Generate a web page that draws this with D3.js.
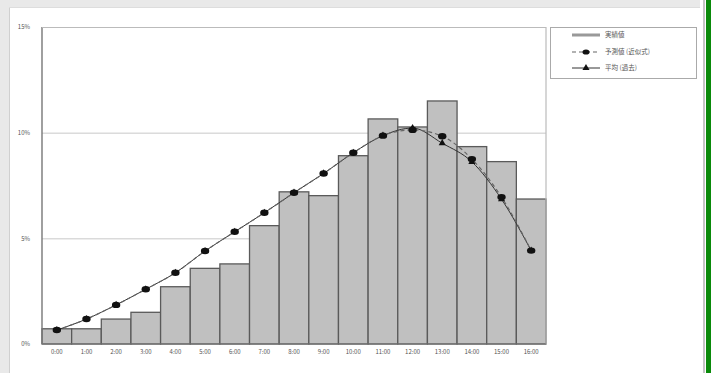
<!DOCTYPE html>
<html>
<head>
<meta charset="utf-8">
<script src="https://cdn.jsdelivr.net/npm/d3@7"></script>
<style>
  html, body { margin: 0; padding: 0; background: #ffffff; }
  svg { display: block; }
  text { font-family: "Noto Sans CJK JP", "DejaVu Sans", sans-serif; fill: #555; }
</style>
</head>
<body>
<svg id="chart" width="711" height="373"></svg>
<script>
// Hourly share (%) — bars and two fitted curves
const categories = ["0:00","1:00","2:00","3:00","4:00","5:00","6:00","7:00","8:00",
  "9:00","10:00","11:00","12:00","13:00","14:00","15:00","16:00"];
const actual = [0.72, 0.72, 1.18, 1.50, 2.71, 3.58, 3.79, 5.60, 7.20, 7.02, 8.91,
  10.65, 10.27, 11.50, 9.34, 8.63, 6.86];
const forecast = [0.66, 1.18, 1.85, 2.59, 3.37, 4.40, 5.31, 6.21, 7.16, 8.07, 9.05,
  9.86, 10.13, 9.83, 8.75, 6.95, 4.42];
const fitted = [0.66, 1.18, 1.85, 2.59, 3.37, 4.40, 5.31, 6.21, 7.16, 8.07, 9.05,
  9.86, 10.22, 9.50, 8.62, 6.85, 4.42];
const yTicks = [0, 5, 10, 15];
const legendLabels = ["実績値", "予測値 (近似式)", "平均 (過去)"];

const svg = d3.select("#chart");

// page frame
svg.append("rect").attr("x", 0).attr("y", 0).attr("width", 711).attr("height", 373).attr("fill", "#ffffff");
svg.append("rect").attr("x", 0).attr("y", 0).attr("width", 700).attr("height", 7).attr("fill", "#e9e9e9");
svg.append("rect").attr("x", 0).attr("y", 0).attr("width", 9).attr("height", 373).attr("fill", "#e9e9e9");
svg.append("line").attr("x1", 9.5).attr("x2", 9.5).attr("y1", 7).attr("y2", 373).attr("stroke", "#d0d0d0");
svg.append("line").attr("x1", 9).attr("x2", 700).attr("y1", 7.5).attr("y2", 7.5).attr("stroke", "#dddddd");
svg.append("rect").attr("x", 703).attr("y", 0).attr("width", 2).attr("height", 373).attr("fill", "#c4c4c4");
svg.append("rect").attr("x", 706).attr("y", 0).attr("width", 5).attr("height", 373).attr("fill", "#0a8a0a");

const plot = { left: 42, top: 27, right: 546, bottom: 344 };

const x = d3.scaleBand().domain(categories).range([plot.left, plot.right]).padding(0);
const y = d3.scaleLinear().domain([0, 15]).range([plot.bottom, plot.top]);

// gridlines
svg.append("g").selectAll("line").data(yTicks.filter(d => d > 0)).join("line")
  .attr("x1", plot.left).attr("x2", plot.right)
  .attr("y1", d => y(d) + 0.5).attr("y2", d => y(d) + 0.5)
  .attr("stroke", "#c8c8c8").attr("stroke-width", 1);

// bars
svg.append("g").selectAll("rect").data(actual).join("rect")
  .attr("x", (d, i) => x(categories[i]))
  .attr("y", d => y(d))
  .attr("width", x.bandwidth())
  .attr("height", d => y(0) - y(d))
  .attr("fill", "#c0c0c0")
  .attr("stroke", "#5a5a5a")
  .attr("stroke-width", 1.3);

// plot frame: left axis, right border
svg.append("line").attr("x1", plot.left).attr("x2", plot.left).attr("y1", plot.top).attr("y2", plot.bottom)
  .attr("stroke", "#777").attr("stroke-width", 1.4);
svg.append("line").attr("x1", plot.right).attr("x2", plot.right).attr("y1", plot.top).attr("y2", plot.bottom)
  .attr("stroke", "#bbb").attr("stroke-width", 1.2);
svg.append("line").attr("x1", plot.left).attr("x2", plot.right).attr("y1", plot.top + 0.5).attr("y2", plot.top + 0.5)
  .attr("stroke", "#bbb").attr("stroke-width", 1.2);
svg.append("line").attr("x1", plot.left).attr("x2", plot.right).attr("y1", plot.bottom).attr("y2", plot.bottom)
  .attr("stroke", "#777").attr("stroke-width", 1.2);

// axes
const yAxis = d3.axisLeft(y).tickValues(yTicks).tickFormat(d => d + "%").tickSize(0).tickPadding(12);
const gy = svg.append("g").attr("transform", `translate(${plot.left},0)`).call(yAxis);
gy.select(".domain").remove();
gy.selectAll("text").style("font-size", "6px").attr("fill", "#555");

const xAxis = d3.axisBottom(x).tickSize(0).tickPadding(6);
const gx = svg.append("g").attr("transform", `translate(0,${plot.bottom})`).call(xAxis);
gx.select(".domain").remove();
gx.selectAll("text").style("font-size", "6px").attr("fill", "#555");

// curves
const cx = (d, i) => x(categories[i]) + x.bandwidth() / 2;
const line = d3.line().x(cx).y(d => y(d)).curve(d3.curveMonotoneX);

svg.append("path").datum(fitted).attr("d", line)
  .attr("fill", "none").attr("stroke", "#333").attr("stroke-width", 1);
svg.append("path").datum(forecast).attr("d", line)
  .attr("fill", "none").attr("stroke", "#666").attr("stroke-width", 1.2).attr("stroke-dasharray", "4,3");

const tri = d3.symbol().type(d3.symbolTriangle).size(22);
svg.append("g").selectAll("path").data(fitted).join("path")
  .attr("transform", (d, i) => `translate(${cx(d, i)},${y(d)})`)
  .attr("d", tri).attr("fill", "#111");
svg.append("g").selectAll("ellipse").data(forecast).join("ellipse")
  .attr("cx", cx).attr("cy", d => y(d)).attr("rx", 4.2).attr("ry", 3.2).attr("fill", "#111");

// legend
const lg = svg.append("g");
lg.append("rect").attr("x", 550.5).attr("y", 27.5).attr("width", 146).attr("height", 51)
  .attr("fill", "#fff").attr("stroke", "#aaa");
lg.append("rect").attr("x", 572).attr("y", 33.5).attr("width", 28).attr("height", 3).attr("fill", "#999");
lg.append("line").attr("x1", 572).attr("x2", 600).attr("y1", 52).attr("y2", 52)
  .attr("stroke", "#666").attr("stroke-width", 1.2).attr("stroke-dasharray", "4,3");
lg.append("ellipse").attr("cx", 586).attr("cy", 52).attr("rx", 3.5).attr("ry", 2.6).attr("fill", "#111");
lg.append("line").attr("x1", 572).attr("x2", 600).attr("y1", 68).attr("y2", 68)
  .attr("stroke", "#333").attr("stroke-width", 1);
lg.append("path").attr("transform", "translate(586,68)").attr("d", tri).attr("fill", "#111");
lg.selectAll("text").data(legendLabels).join("text")
  .attr("x", 605).attr("y", (d, i) => [35, 52, 68][i]).attr("dy", "0.35em")
  .style("font-size", "6.5px").attr("fill", "#777").text(d => d);
</script>
</body>
</html>
